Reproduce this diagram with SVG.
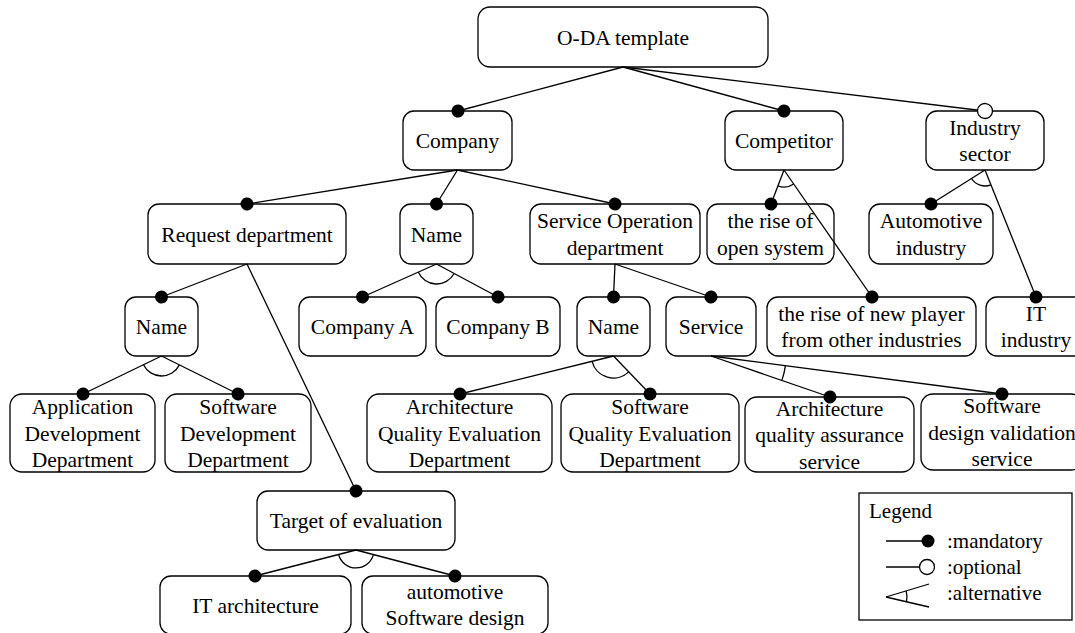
<svg xmlns="http://www.w3.org/2000/svg" width="1075" height="633" viewBox="0 0 1075 633">
<style>
.box{fill:#fff;stroke:#000;stroke-width:1.3}
.t{font-family:"Liberation Serif","Times New Roman",serif;font-size:21.5px;fill:#000;text-anchor:middle}
.tl{font-family:"Liberation Serif","Times New Roman",serif;font-size:21px;fill:#000}
.c{stroke:#000;stroke-width:1.3;fill:none}
.cm{stroke:#000;stroke-width:1.3;fill:none;marker-end:url(#mand)}
.co{stroke:#000;stroke-width:1.3;fill:none;marker-end:url(#opt)}
</style>
<defs>
<marker id="mand" viewBox="-9 -9 18 18" refX="0" refY="0" markerWidth="18" markerHeight="18" markerUnits="userSpaceOnUse" orient="auto"><circle r="6.5" fill="#000"/></marker>
<marker id="opt" viewBox="-9 -9 18 18" refX="0" refY="0" markerWidth="18" markerHeight="18" markerUnits="userSpaceOnUse" orient="auto"><circle r="7.5" fill="#fff" stroke="#000" stroke-width="1.3"/></marker>
</defs>
<rect width="1075" height="633" fill="#fff"/>

<g id="oda"><rect class="box" x="478" y="7" width="290" height="60" rx="12"/><text class="t" x="623" y="44.5">O-DA template</text></g>
<g id="company"><rect class="box" x="403" y="111" width="109" height="59" rx="11"/><text class="t" x="457.5" y="148">Company</text></g>
<g id="competitor"><rect class="box" x="725" y="111" width="118" height="59" rx="11"/><text class="t" x="784" y="148">Competitor</text></g>
<g id="industry-sector"><rect class="box" x="926" y="111" width="118" height="59" rx="11"/><text class="t" x="985"><tspan x="985" y="134.8">Industry</tspan><tspan x="985" y="161.3">sector</tspan></text></g>

<g id="request-department"><rect class="box" x="148" y="204" width="198" height="60" rx="11"/><text class="t" x="247" y="241.5">Request department</text></g>
<g id="company-name"><rect class="box" x="400" y="204" width="73" height="60" rx="11"/><text class="t" x="436.5" y="241.5">Name</text></g>
<g id="service-operation-department"><rect class="box" x="530" y="204" width="170" height="60" rx="11"/><text class="t" x="615"><tspan x="615" y="228.3">Service Operation</tspan><tspan x="615" y="254.8">department</tspan></text></g>
<g id="open-system"><rect class="box" x="707" y="204" width="127" height="60" rx="11"/><text class="t" x="770.5"><tspan x="770.5" y="228.3">the rise of</tspan><tspan x="770.5" y="254.8">open system</tspan></text></g>
<g id="automotive-industry"><rect class="box" x="869" y="204" width="124" height="60" rx="11"/><text class="t" x="931"><tspan x="931" y="228.3">Automotive</tspan><tspan x="931" y="254.8">industry</tspan></text></g>

<g id="request-name"><rect class="box" x="125" y="297" width="73" height="59" rx="11"/><text class="t" x="161.5" y="334">Name</text></g>
<g id="company-a"><rect class="box" x="299" y="297" width="127" height="59" rx="11"/><text class="t" x="362.5" y="334">Company A</text></g>
<g id="company-b"><rect class="box" x="436" y="297" width="124" height="59" rx="11"/><text class="t" x="498" y="334">Company B</text></g>
<g id="service-name"><rect class="box" x="577" y="297" width="73" height="59" rx="11"/><text class="t" x="613.5" y="334">Name</text></g>
<g id="service"><rect class="box" x="666" y="297" width="90" height="59" rx="11"/><text class="t" x="711" y="334">Service</text></g>
<g id="new-player"><rect class="box" x="767" y="297" width="209" height="59" rx="11"/><text class="t" x="871.5"><tspan x="871.5" y="320.8">the rise of new player</tspan><tspan x="871.5" y="347.3">from other industries</tspan></text></g>
<g id="it-industry"><rect class="box" x="986" y="297" width="100" height="59" rx="11"/><text class="t" x="1036"><tspan x="1036" y="320.8">IT</tspan><tspan x="1036" y="347.3">industry</tspan></text></g>

<g id="application-development"><rect class="box" x="10" y="394" width="145" height="78" rx="12"/><text class="t" x="82.5"><tspan x="82.5" y="414">Application</tspan><tspan x="82.5" y="440.5">Development</tspan><tspan x="82.5" y="467">Department</tspan></text></g>
<g id="software-development"><rect class="box" x="165" y="394" width="146" height="78" rx="12"/><text class="t" x="238"><tspan x="238" y="414">Software</tspan><tspan x="238" y="440.5">Development</tspan><tspan x="238" y="467">Department</tspan></text></g>
<g id="architecture-qed"><rect class="box" x="367" y="394" width="185" height="78" rx="12"/><text class="t" x="459.5"><tspan x="459.5" y="414">Architecture</tspan><tspan x="459.5" y="440.5">Quality Evaluation</tspan><tspan x="459.5" y="467">Department</tspan></text></g>
<g id="software-qed"><rect class="box" x="561" y="394" width="178" height="78" rx="12"/><text class="t" x="650"><tspan x="650" y="414">Software</tspan><tspan x="650" y="440.5">Quality Evaluation</tspan><tspan x="650" y="467">Department</tspan></text></g>
<g id="architecture-qas"><rect class="box" x="745" y="397" width="169" height="75" rx="12"/><text class="t" x="829.5"><tspan x="829.5" y="415.5">Architecture</tspan><tspan x="829.5" y="442">quality assurance</tspan><tspan x="829.5" y="468.5">service</tspan></text></g>
<g id="software-dvs"><rect class="box" x="921" y="394" width="162" height="76" rx="12"/><text class="t" x="1002"><tspan x="1002" y="413">Software</tspan><tspan x="1002" y="439.5">design validation</tspan><tspan x="1002" y="466">service</tspan></text></g>

<g id="target-of-evaluation"><rect class="box" x="257" y="491" width="198" height="59" rx="11"/><text class="t" x="356" y="528">Target of evaluation</text></g>
<g id="it-architecture"><rect class="box" x="160" y="576" width="191" height="58" rx="11"/><text class="t" x="255.5" y="612.5">IT architecture</text></g>
<g id="automotive-software-design"><rect class="box" x="362" y="576" width="186" height="58" rx="11"/><text class="t" x="455"><tspan x="455" y="598.5">automotive</tspan><tspan x="455" y="625">Software design</tspan></text></g>

<g id="connectors">
<line class="cm" x1="623" y1="67" x2="458" y2="111"/>
<line class="cm" x1="623" y1="67" x2="784" y2="111"/>
<line class="co" x1="623" y1="67" x2="985" y2="111"/>
<line class="cm" x1="457.5" y1="170" x2="247" y2="204"/>
<line class="cm" x1="457.5" y1="170" x2="436.5" y2="204"/>
<line class="cm" x1="457.5" y1="170" x2="615" y2="204"/>
<line class="cm" x1="784" y1="170" x2="771" y2="204"/>
<line class="cm" x1="784" y1="170" x2="872" y2="297"/>
<path class="c" d="M777.9,185.9 A17,17 0 0 0 793.7,184"/>
<line class="cm" x1="985" y1="170" x2="931" y2="204"/>
<line class="cm" x1="985" y1="170" x2="1036" y2="297"/>
<path class="c" d="M971.5,178.5 A16,16 0 0 0 991,184.8"/>
<line class="cm" x1="247" y1="264" x2="161.5" y2="297"/>
<line class="cm" x1="247" y1="264" x2="356" y2="491"/>
<line class="cm" x1="436.5" y1="264" x2="362.5" y2="297"/>
<line class="cm" x1="436.5" y1="264" x2="498" y2="297"/>
<path class="c" d="M418.2,272.1 A20,20 0 0 0 454.1,273.5"/>
<line class="cm" x1="615" y1="264" x2="613.5" y2="297"/>
<line class="cm" x1="615" y1="264" x2="711" y2="297"/>
<line class="cm" x1="161.5" y1="356" x2="83" y2="394"/>
<line class="cm" x1="161.5" y1="356" x2="238" y2="394"/>
<path class="c" d="M143.5,364.7 A20,20 0 0 0 179.4,364.9"/>
<line class="cm" x1="613.5" y1="356" x2="460" y2="394"/>
<line class="cm" x1="613.5" y1="356" x2="650" y2="394"/>
<path class="c" d="M592.1,361.3 A22,22 0 0 0 628.7,371.9"/>
<line class="cm" x1="711" y1="356" x2="830" y2="397"/>
<line class="cm" x1="711" y1="356" x2="1002" y2="394"/>
<path class="c" d="M781.9,380.4 A75,75 0 0 0 785.4,365.7"/>
<line class="cm" x1="356" y1="550" x2="255" y2="576"/>
<line class="cm" x1="356" y1="550" x2="455" y2="576"/>
<path class="c" d="M338.6,554.5 A18,18 0 0 0 373.4,554.6"/>
</g>

<g id="legend">
<rect x="859" y="493" width="213" height="127" fill="#fff" stroke="#000" stroke-width="1.3"/>
<text class="tl" x="869" y="518">Legend</text>
<line class="cm" x1="886" y1="541" x2="928" y2="541"/>
<text class="tl" x="947" y="548">:mandatory</text>
<line class="co" x1="886" y1="567" x2="927" y2="567"/>
<text class="tl" x="947" y="574">:optional</text>
<line class="c" x1="886" y1="597" x2="929" y2="584"/>
<line class="c" x1="886" y1="597" x2="929" y2="607"/>
<path class="c" d="M906.1,590.9 A21,21 0 0 1 906.5,601.7"/>
<text class="tl" x="947" y="600">:alternative</text>
</g>
</svg>
